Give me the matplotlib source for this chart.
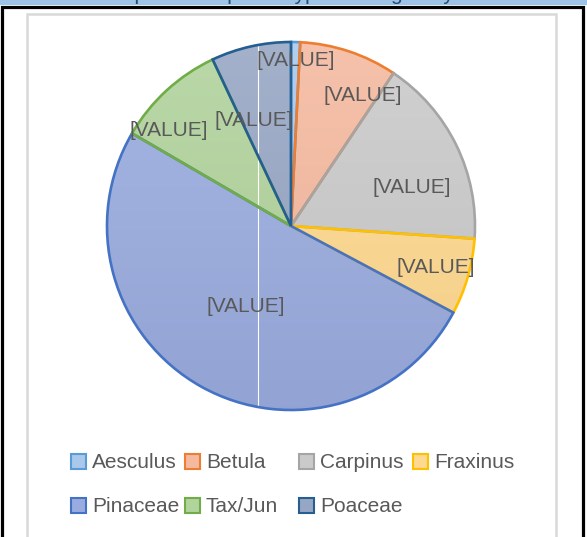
import matplotlib
matplotlib.use('Agg')
from matplotlib import pyplot as plt
from matplotlib.patches import Rectangle
from matplotlib.colors import to_rgb
import numpy as np

# данные
taxa = ['Aesculus', 'Betula', 'Carpinus', 'Fraxinus', 'Pinaceae', 'Tax/Jun', 'Poaceae']
shares = [0.8, 8.6, 16.7, 6.7, 50.6, 9.6, 7.0]
label_text = '[VALUE]'
title = 'Proportion of pollen types during the year'

fills = ['#a9c8ec', '#f5b99f', '#cacaca', '#ffd98f', '#9aacdf', '#b1d39c', '#97a6c4']
edges = ['#5b9bd5', '#ed7d31', '#a5a5a5', '#ffc000', '#4472c4', '#70ad47', '#255e91']

# сдвиг подписей (доля радиуса, поворот в градусах по часовой)
label_r = [0.90, 0.81, 0.69, 0.82, 0.50, 0.84, 0.61]
label_turn = [0.3, 10.5, 8.3, 0.0, 0.0, -9.5, -7.0]

W, H = 587, 537
fig = plt.figure(figsize=(W / 100, H / 100), dpi=100)
plt.rcParams['font.family'] = ['Liberation Sans', 'DejaVu Sans']

# рамки
fig.patches.append(Rectangle((0, 1 - 5 / H), 1, 5 / H, transform=fig.transFigure,
                             facecolor='#9dc3e6', edgecolor='none', zorder=0))
fig.text(0.5, 1.0, title, ha='center', va='baseline', color='#1f4e79', fontsize=15)
fig.patches.append(Rectangle((1.5 / W, -0.1), 581 / W, 1.1 - 6.5 / H, transform=fig.transFigure,
                             facecolor='none', edgecolor='black', linewidth=2.3))
fig.patches.append(Rectangle((27 / W, -0.1), 529 / W, 1.1 - 14 / H, transform=fig.transFigure,
                             facecolor='none', edgecolor='#d9d9d9', linewidth=1.8))

cx, cy, r = 291, 226, 184
ax = fig.add_axes([(cx - r) / W, 1 - (cy + r) / H, 2 * r / W, 2 * r / H])
wedges, _ = ax.pie(shares, colors=fills, startangle=90, counterclock=False,
                   wedgeprops=dict(linewidth=1.9))
ax.set_xlim(-1, 1)
ax.set_ylim(-1, 1)
ax.axis('off')


def gradient(c):  # сверху светлее, снизу темнее
    c = np.array(to_rgb(c))
    top = c + (1 - c) * 0.12
    bot = c * 0.95
    t = np.linspace(0, 1, 256)[:, None, None]
    return (top * (1 - t) + bot * t) * np.ones((1, 2, 3))


for w, fc, ec in zip(wedges, fills, edges):
    w.set_facecolor('none')
    w.set_edgecolor(ec)
    w.set_zorder(3)
    im = ax.imshow(gradient(fc), extent=(-1, 1, -1, 1), origin='upper', aspect='auto', zorder=1)
    im.set_clip_path(w)

ax.plot([-0.179, -0.179], [-0.975, 0.995], color='white', linewidth=0.8, zorder=2)

for ii, w in enumerate(wedges):
    mid = (w.theta1 + w.theta2) / 2 - label_turn[ii]
    x = label_r[ii] * np.cos(np.radians(mid))
    y = label_r[ii] * np.sin(np.radians(mid))
    ax.text(x, y, label_text, ha='center', va='center', fontsize=15, color='#595959', zorder=4)

# легенда вручную: 4 колонки одинаковой ширины, как в Excel
for ii, name in enumerate(taxa):
    col, row = ii % 4, ii // 4
    x0 = 71 + col * 114
    y0 = 461 + row * 44
    fig.patches.append(Rectangle((x0 / W, 1 - (y0 + 7.5) / H), 15 / W, 15 / H, transform=fig.transFigure,
                                 facecolor=fills[ii], edgecolor=edges[ii], linewidth=1.5))
    fig.text((x0 + 21) / W, 1 - (y0 + 2) / H, name, ha='left', va='center', fontsize=15, color='#595959')

fig.savefig('out.png', dpi=100)
